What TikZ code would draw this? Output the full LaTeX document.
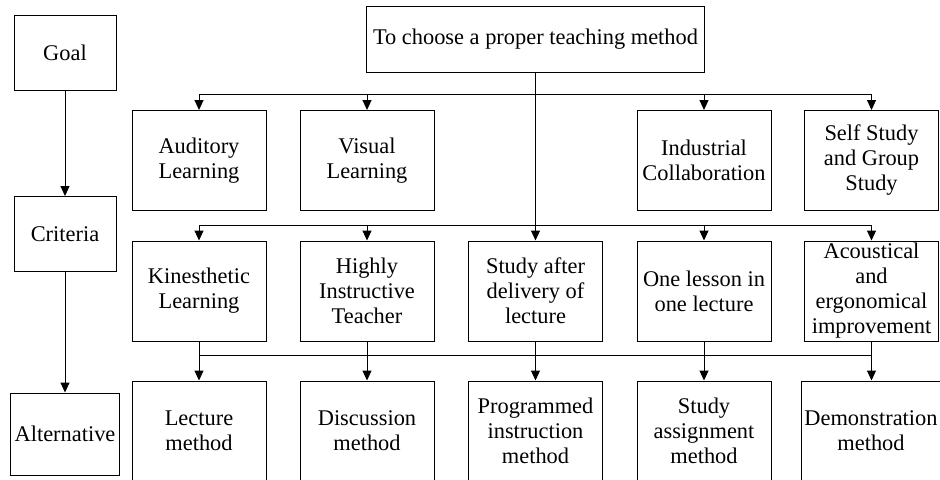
\documentclass[tikz,border=0pt]{standalone}
\usepackage{fontspec}
\setmainfont{Liberation Serif}
\usetikzlibrary{arrows.meta}
\begin{document}
\begin{tikzpicture}[x=0.5pt,y=-0.5pt,line width=0.5pt,
    font=\fontsize{11.2}{12.5}\selectfont,
    box/.style={draw,align=center,inner sep=0pt,minimum width=67pt,minimum height=50pt},
    levelbox/.style={draw,align=center,inner sep=0pt,minimum width=51pt,minimum height=37.5pt},
    arr/.style={-{Triangle[width=4.5pt,length=5pt]}}]
  \useasboundingbox (0,0) rectangle (940,479);
  \clip (0,0) rectangle (940,479);
  % levels
  \draw
    (65,52.5) node[levelbox] (goal){Goal}
    (65,234) node[levelbox] (crit){Criteria}
    (65,434) node[levelbox,minimum width=54.5pt,minimum height=41pt] (alt){Alternative};
  % goal
  \draw
    (535.5,39) node[draw,minimum width=168pt,minimum height=33pt] (top){To choose a proper teaching method};
  % criteria
  \draw
    (199,160.5) node[box] (aud){Auditory\\Learning}
    (367,160.5) node[box] (vis){Visual\\Learning}
    (704,160.5) node[box] (ind){Industrial\\Collaboration}
    (871.5,160.5) node[box] (self){Self Study\\and Group\\Study}
    (199,291) node[box] (kin){Kinesthetic\\Learning}
    (367,291) node[box] (high){Highly\\Instructive\\Teacher}
    (535.5,291) node[box] (after){Study after\\delivery of\\lecture}
    (704,291) node[box] (one){One lesson in\\one lecture}
    (871.5,291) node[box] (acou){Acoustical\\and\\ergonomical\\improvement};
  % alternatives
  \draw
    (199,431) node[box] (lec){Lecture\\method}
    (367,431) node[box] (disc){Discussion\\method}
    (535.5,431) node[box] (prog){Programmed\\instruction\\method}
    (704,431) node[box] (assign){Study\\assignment\\method}
    (871,431) node[box,minimum width=70pt] (demo){Demonstration\\method};
  \coordinate (bus1) at (535.5,94);
  \coordinate (bus2) at (535.5,225);
  \coordinate (bus3) at (535.5,355);
  \begin{scope}[arr]
    \draw (goal) to (crit);
    \draw (crit) to (alt);
    \draw (top) to (after);
    \draw (bus1) -| (aud.north);
    \draw (bus1) -| (vis.north);
    \draw (bus1) -| (ind.north);
    \draw (bus1) -| (self.north);
    \draw (bus2) -| (kin.north);
    \draw (bus2) -| (high.north);
    \draw (bus2) -| (one.north);
    \draw (bus2) -| (acou.north);
    \draw (kin) to (lec);
    \draw (high) to (disc);
    \draw (after) to (prog);
    \draw (one) to (assign);
    \draw (acou.south) to (acou.south |- demo.north);
  \end{scope}
  \draw (kin.south |- bus3) -- (acou.south |- bus3);
\end{tikzpicture}
\end{document}
